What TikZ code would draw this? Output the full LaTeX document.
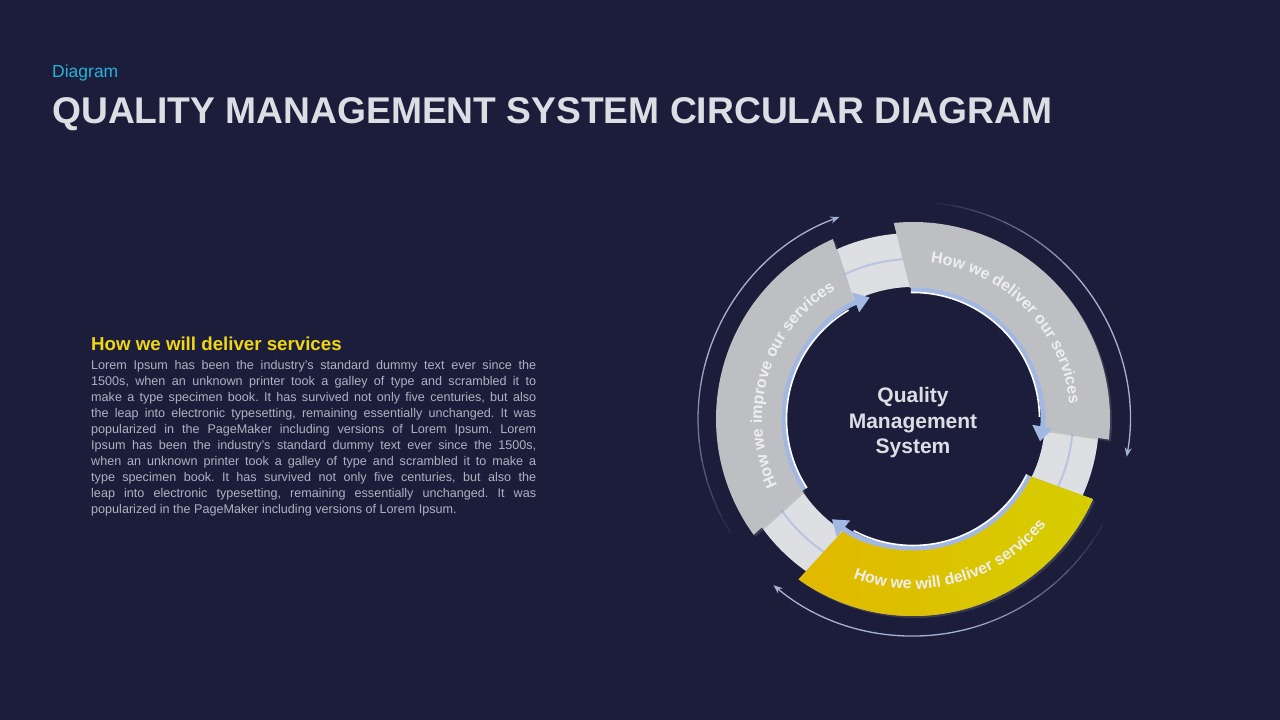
\documentclass[tikz,border=0pt]{standalone}
\usepackage{fontspec}
\setmainfont{Liberation Sans}
\usetikzlibrary{arrows.meta, decorations.text, shadows}

\definecolor{bgnavy}{RGB}{27,29,59}
\definecolor{capcyan}{RGB}{38,178,216}
\definecolor{titlegray}{RGB}{221,222,228}
\definecolor{headyellow}{RGB}{240,214,20}
\definecolor{bodygray}{RGB}{176,178,192}
\definecolor{seggray}{RGB}{190,191,194}
\definecolor{bandgray}{RGB}{222,223,226}
\definecolor{bandline}{RGB}{186,196,226}
\definecolor{arrowblue}{RGB}{162,184,226}
\definecolor{thinblue}{RGB}{165,178,215}
\definecolor{yellowL}{RGB}{226,184,0}
\definecolor{yellowR}{RGB}{213,206,0}
\definecolor{ringwhite}{RGB}{238,238,240}

\newcommand\ringfont{\fontsize{16}{16}\selectfont\bfseries\color{ringwhite}}

\tikzset{
  segment/.style={fill=seggray, drop shadow={opacity=0.3, shadow xshift=2pt, shadow yshift=-2pt}},
  inarrow/.style={line width=5pt, arrowblue, -{Triangle[width=20pt, length=15pt]}},
  outarrow/.style={line width=1.3pt, thinblue, -{Stealth[width=7pt, length=9pt]}},
  ringlabel/.style={decorate, decoration={text along path, text align=center, text={|\ringfont|#1}}}
}

\begin{document}
\frenchspacing
\begin{tikzpicture}[x=1pt, y=1pt]
    \fill[bgnavy] (0,0) rectangle (1280,720);
    \useasboundingbox (0,0) rectangle (1280,720);

    % header
    \node[anchor=base west, inner sep=0pt, text=capcyan, font=\fontsize{17.5}{20}\selectfont] (tag) at (52,642) {Diagram};
    \node[anchor=base west, inner sep=0pt, text=titlegray, font=\fontsize{37.2}{40}\selectfont\bfseries] (title) at (52,596) {QUALITY MANAGEMENT SYSTEM CIRCULAR DIAGRAM};

    % left column
    \node[anchor=base west, inner sep=0pt, text=headyellow, font=\fontsize{18.7}{20}\selectfont\bfseries] (head) at (91,369) {How we will deliver services};
    \node[anchor=base west, inner sep=0pt, text width=445pt, align=justify, text=bodygray, font=\fontsize{12.6}{15.9}\selectfont] (body) at (91,350)
      {Lorem Ipsum has been the industry's standard dummy text ever since the\linebreak
       1500s, when an unknown printer took a galley of type and scrambled it to\linebreak
       make a type specimen book. It has survived not only five centuries, but also\linebreak
       the leap into electronic typesetting, remaining essentially unchanged. It was\linebreak
       popularized in the PageMaker including versions of Lorem Ipsum. Lorem\linebreak
       Ipsum has been the industry's standard dummy text ever since the 1500s,\linebreak
       when an unknown printer took a galley of type and scrambled it to make a\linebreak
       type specimen book. It has survived not only five centuries, but also the\linebreak
       leap into electronic typesetting, remaining essentially unchanged. It was\linebreak
       popularized in the PageMaker including versions of Lorem Ipsum.};

    \begin{scope}[shift={(913,301)}]
      % outer cycle arrows, fading at the tail
      \foreach \r/\a/\b in {215/212/110, 217/84/-10, 217/-29/-130}{
        \pgfmathsetmacro\m{\a+0.45*(\b-\a)}
        \foreach \k [evaluate=\k as \o using \k/10] in {1,...,9}
          \draw[thinblue, line width=1.3pt, opacity=\o] ({\a+(\k-1)*(\m-\a)/9}:\r) arc[start angle={\a+(\k-1)*(\m-\a)/9}, end angle={\a+\k*(\m-\a)/9}, radius=\r];
        \draw[outarrow] (\m:\r) arc[start angle=\m, end angle=\b, radius=\r];
      }

      % base ring
      \fill[bandgray, even odd rule] (0,0) circle (186) (0,0) circle (132);
      \draw[bandline, line width=2pt] (0,0) circle (160);

      % segments
      \fill[segment] (95.6:197) arc[start angle=95.6, end angle=-6, radius=197] -- (-4.7:131) arc[start angle=-4.7, end angle=91.3, radius=131] -- cycle;
      \fill[segment] (114:197) arc[start angle=114, end angle=216, radius=197] -- (213:131) arc[start angle=213, end angle=117, radius=131] -- cycle;
      \fill[segment, left color=yellowL, middle color=yellowR, right color=yellowR] (234.5:197) arc[start angle=234.5, end angle=336, radius=197] -- (334:131) arc[start angle=334, end angle=238, radius=131] -- cycle;

      % inner arrows
      \foreach \a/\b in {91/-10, 213/109.6, -26/-129}{
        \draw[inarrow] (\a:129) arc[start angle=\a, end angle=\b, radius=129];
        \draw[white, line width=1.6pt] (\a:126.5) arc[start angle=\a, end angle=\b+11, radius=126.5];
      }

      % labels on the ring
      \path[ringlabel={How we deliver our services}] (91:157) arc[start angle=91, end angle=-2, radius=157];
      \path[ringlabel={How we improve our services}] (210:151) arc[start angle=210, end angle=117, radius=151];
      \path[ringlabel={How we will deliver services}] (239:170) arc[start angle=239, end angle=332, radius=170];

      \node[align=center, inner sep=0pt, text=titlegray, font=\fontsize{21}{25.5}\selectfont\bfseries] (qms) at (0,-4) {Quality\\Management\\System};
    \end{scope}
\end{tikzpicture}
\end{document}
